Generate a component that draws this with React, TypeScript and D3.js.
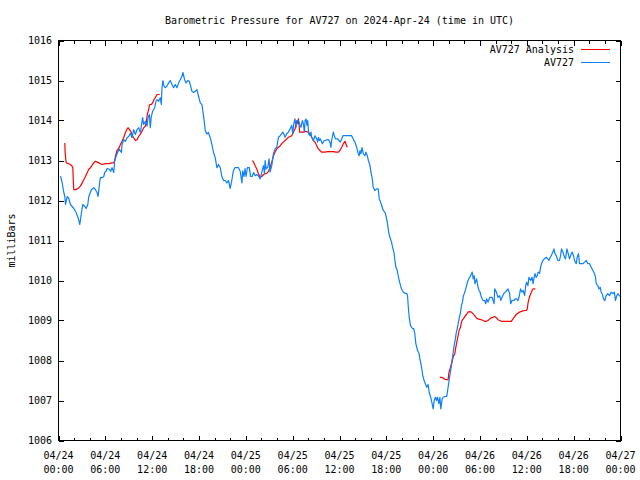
import React from 'react';
import * as d3 from 'd3';

// hours after 2024-04-24 00:00 UTC, pressure in mbar
const av727: [number, number][] = [
    [0.26, 1012.61], [0.47, 1012.44], [0.68, 1012.2], [0.81, 1012.1], [0.9, 1011.9], [1.11, 1012.1], [1.32, 1012.05],
    [1.53, 1011.9], [1.75, 1011.85], [1.96, 1011.8], [2.26, 1011.7], [2.51, 1011.57], [2.73, 1011.4], [2.94, 1011.7],
    [3.11, 1011.9], [3.37, 1011.85], [3.54, 1011.8], [3.75, 1011.9], [3.88, 1012.1], [4.22, 1012.27], [4.52, 1012.32],
    [4.73, 1012.27], [4.94, 1012.2], [5.07, 1012.1], [5.24, 1012.4], [5.37, 1012.57], [5.58, 1012.57], [5.8, 1012.6],
    [5.92, 1012.7], [6.1, 1012.73], [6.22, 1012.8], [6.52, 1012.78], [6.69, 1012.73], [6.86, 1012.82], [7.08, 1012.7],
    [7.2, 1013.0], [7.37, 1013.1], [7.63, 1013.23], [7.8, 1013.28], [8.06, 1013.2], [8.14, 1013.4], [8.35, 1013.52],
    [8.57, 1013.48], [8.78, 1013.57], [8.99, 1013.6], [9.21, 1013.68], [9.42, 1013.57], [9.63, 1013.77], [9.85, 1013.65],
    [10.06, 1013.77], [10.27, 1013.82], [10.49, 1013.7], [10.61, 1013.86], [10.78, 1014.07], [10.91, 1013.9],
    [11.13, 1013.98], [11.34, 1013.86], [11.47, 1014.07], [11.64, 1014.15], [11.76, 1013.82], [11.89, 1014.1],
    [12.06, 1014.23], [12.32, 1014.32], [12.49, 1014.48], [12.62, 1014.52], [12.83, 1014.48], [13.04, 1014.57],
    [13.17, 1014.4], [13.26, 1014.82], [13.38, 1015.0], [13.51, 1014.86], [13.68, 1014.82], [13.9, 1014.86],
    [14.11, 1014.94], [14.32, 1015.0], [14.54, 1014.9], [14.75, 1014.82], [14.96, 1014.9], [15.17, 1014.82],
    [15.39, 1014.94], [15.6, 1015.02], [15.81, 1015.1], [15.94, 1015.2], [16.16, 1015.02], [16.33, 1014.94],
    [16.58, 1015.0], [16.75, 1014.98], [16.88, 1014.9], [17.09, 1014.73], [17.31, 1014.7], [17.52, 1014.73],
    [17.73, 1014.77], [17.95, 1014.6], [18.16, 1014.44], [18.37, 1014.4], [18.5, 1014.23], [18.67, 1013.98],
    [18.8, 1013.75], [19.0, 1013.66], [19.2, 1013.7], [19.44, 1013.57], [19.65, 1013.4], [19.86, 1013.2],
    [20.08, 1013.07], [20.29, 1012.82], [20.5, 1012.9], [20.72, 1012.82], [20.93, 1012.6], [21.14, 1012.5],
    [21.35, 1012.5], [21.57, 1012.44], [21.78, 1012.5], [22.0, 1012.3], [22.2, 1012.5], [22.4, 1012.74],
    [22.6, 1012.82], [22.83, 1012.82], [23.06, 1012.82], [23.27, 1012.74], [23.5, 1012.44], [23.6, 1012.74],
    [23.77, 1012.6], [23.9, 1012.8], [24.03, 1012.6], [24.2, 1012.82], [24.45, 1012.82], [24.6, 1012.6],
    [24.8, 1012.6], [25.0, 1012.7], [25.2, 1012.62], [25.4, 1012.65], [25.6, 1012.62], [25.83, 1012.54],
    [26.05, 1012.71], [26.26, 1012.87], [26.39, 1012.67], [26.47, 1013.0], [26.6, 1012.79], [26.81, 1012.83],
    [26.98, 1013.04], [27.1, 1012.71], [27.32, 1012.87], [27.54, 1013.17], [27.75, 1013.29], [27.96, 1013.33],
    [28.18, 1013.58], [28.4, 1013.62], [28.6, 1013.67], [28.73, 1013.71], [28.86, 1013.67], [29.03, 1013.58],
    [29.24, 1013.67], [29.45, 1013.71], [29.67, 1013.79], [29.88, 1013.88], [30.01, 1013.67], [30.14, 1013.92],
    [30.3, 1014.04], [30.43, 1013.83], [30.56, 1014.0], [30.73, 1014.0], [30.94, 1013.88], [31.07, 1013.83],
    [31.24, 1014.0], [31.37, 1013.92], [31.5, 1013.71], [31.59, 1014.0], [31.71, 1014.04], [31.84, 1013.88],
    [31.93, 1014.0], [32.05, 1013.67], [32.22, 1013.62], [32.35, 1013.71], [32.44, 1013.58], [32.65, 1013.5],
    [32.86, 1013.62], [33.08, 1013.54], [33.2, 1013.46], [33.3, 1013.58], [33.43, 1013.5], [33.56, 1013.54],
    [33.8, 1013.42], [34.05, 1013.5], [34.22, 1013.5], [34.4, 1013.52], [34.57, 1013.52], [34.78, 1013.46],
    [34.9, 1013.33], [34.99, 1013.5], [35.21, 1013.71], [35.33, 1013.62], [35.5, 1013.54], [35.76, 1013.54],
    [35.93, 1013.5], [36.1, 1013.46], [36.28, 1013.54], [36.45, 1013.62], [36.7, 1013.62], [37.55, 1013.62],
    [37.76, 1013.54], [37.98, 1013.46], [38.2, 1013.33], [38.4, 1013.17], [38.53, 1013.12], [38.62, 1013.25],
    [38.75, 1013.17], [38.88, 1013.32], [39.05, 1013.17], [39.26, 1013.12], [39.39, 1013.21], [39.56, 1013.12],
    [39.7, 1013.0], [39.9, 1012.88], [40.03, 1012.71], [40.2, 1012.54], [40.32, 1012.33], [40.54, 1012.25],
    [40.75, 1012.29], [40.96, 1012.29], [41.09, 1012.04], [41.26, 1011.96], [41.47, 1011.83], [41.6, 1011.75],
    [41.82, 1011.71], [42.0, 1011.58], [42.15, 1011.42], [42.3, 1011.21], [42.45, 1011.08], [42.67, 1010.96],
    [42.8, 1010.83], [42.97, 1010.71], [43.1, 1010.5], [43.23, 1010.33], [43.4, 1010.25], [43.52, 1010.12],
    [43.65, 1010.0], [43.82, 1009.87], [43.95, 1009.79], [44.16, 1009.71], [44.37, 1009.68], [44.6, 1009.68],
    [44.72, 1009.62], [44.8, 1009.37], [44.93, 1009.08], [45.1, 1008.87], [45.35, 1008.8], [45.5, 1008.8],
    [45.65, 1008.67], [45.78, 1008.42], [46.0, 1008.25], [46.2, 1008.17], [46.3, 1008.04], [46.48, 1007.87],
    [46.67, 1007.62], [46.84, 1007.5], [47.0, 1007.42], [47.18, 1007.33], [47.35, 1007.4], [47.5, 1007.2],
    [47.69, 1007.08], [47.87, 1006.92], [48.0, 1006.79], [48.13, 1007.0], [48.3, 1007.08], [48.43, 1007.0],
    [48.56, 1007.08], [48.73, 1006.92], [48.86, 1007.08], [48.98, 1006.79], [49.15, 1007.04], [49.28, 1007.08],
    [49.5, 1007.1], [49.74, 1007.1], [49.91, 1007.33], [50.04, 1007.5], [50.17, 1007.67], [50.34, 1007.87],
    [50.47, 1008.08], [50.6, 1008.25], [50.73, 1008.42], [50.85, 1008.54], [50.94, 1008.67], [51.07, 1008.79],
    [51.2, 1008.92], [51.32, 1009.04], [51.5, 1009.2], [51.62, 1009.37], [51.75, 1009.46], [51.88, 1009.62],
    [52.05, 1009.71], [52.22, 1009.83], [52.39, 1009.96], [52.56, 1010.04], [52.69, 1010.08], [52.9, 1010.17],
    [53.0, 1010.21], [53.13, 1010.04], [53.26, 1010.12], [53.35, 1009.92], [53.56, 1010.04], [53.75, 1009.83],
    [53.88, 1009.75], [54.01, 1009.71], [54.18, 1009.58], [54.4, 1009.5], [54.6, 1009.5], [54.73, 1009.42],
    [54.86, 1009.54], [55.03, 1009.46], [55.25, 1009.58], [55.55, 1009.58], [55.8, 1009.42], [55.88, 1009.79],
    [56.1, 1009.71], [56.3, 1009.58], [56.52, 1009.62], [56.65, 1009.5], [56.82, 1009.58], [57.03, 1009.67],
    [57.25, 1009.71], [57.42, 1009.75], [57.59, 1009.79], [57.8, 1009.67], [57.93, 1009.42], [58.1, 1009.5],
    [58.35, 1009.5], [58.52, 1009.54], [58.69, 1009.54], [58.86, 1009.5], [58.99, 1009.58], [59.2, 1009.79],
    [59.37, 1009.71], [59.54, 1009.75], [59.72, 1009.62], [59.85, 1009.87], [59.97, 1009.96], [60.14, 1009.87],
    [60.27, 1010.08], [60.5, 1010.0], [60.67, 1010.08], [60.8, 1009.92], [60.9, 1010.04], [61.04, 1010.17],
    [61.2, 1010.08], [61.33, 1010.12], [61.46, 1010.21], [61.63, 1010.18], [61.76, 1010.33], [61.88, 1010.42],
    [62.05, 1010.5], [62.26, 1010.54], [62.48, 1010.58], [62.69, 1010.54], [62.82, 1010.5], [62.99, 1010.58],
    [63.12, 1010.62], [63.34, 1010.71], [63.47, 1010.79], [63.6, 1010.67], [63.77, 1010.62], [63.98, 1010.5],
    [64.19, 1010.5], [64.32, 1010.62], [64.45, 1010.79], [64.62, 1010.71], [64.83, 1010.58], [64.96, 1010.54],
    [65.13, 1010.79], [65.3, 1010.67], [65.47, 1010.54], [65.69, 1010.67], [65.81, 1010.71], [65.98, 1010.62],
    [66.11, 1010.5], [66.33, 1010.42], [66.45, 1010.58], [66.62, 1010.67], [66.75, 1010.42], [66.97, 1010.42],
    [67.18, 1010.42], [67.4, 1010.46], [67.61, 1010.5], [67.82, 1010.42], [68.04, 1010.42], [68.25, 1010.33],
    [68.46, 1010.25], [68.67, 1010.17], [68.8, 1010.08], [68.89, 1009.92], [69.1, 1009.87], [69.23, 1009.79],
    [69.4, 1009.83], [69.52, 1009.71], [69.65, 1009.67], [69.82, 1009.54], [69.99, 1009.5], [70.16, 1009.62],
    [70.37, 1009.67], [70.59, 1009.62], [70.8, 1009.71], [71.01, 1009.67], [71.22, 1009.71], [71.35, 1009.5],
    [71.52, 1009.62], [71.69, 1009.67], [71.9, 1009.6],
];

// analysis runs (gaps between them)
const analysisRun1: [number, number][] = [
    [0.81, 1013.44], [0.85, 1013.19], [0.98, 1012.94], [1.32, 1012.92], [1.66, 1012.88], [1.83, 1012.83],
    [1.88, 1012.57], [1.96, 1012.27], [2.17, 1012.27], [2.39, 1012.29], [2.6, 1012.32], [2.81, 1012.36],
    [3.03, 1012.44], [3.24, 1012.52], [3.45, 1012.6], [3.66, 1012.69], [3.88, 1012.78], [4.09, 1012.82],
    [4.3, 1012.88], [4.52, 1012.94], [4.73, 1012.98], [4.94, 1012.96], [5.16, 1012.94], [5.37, 1012.92],
    [5.58, 1012.9], [6.01, 1012.92], [6.44, 1012.92], [6.86, 1012.94], [7.08, 1012.94], [7.2, 1013.0],
    [7.29, 1013.1], [7.5, 1013.25], [7.72, 1013.3], [7.93, 1013.4], [8.14, 1013.48], [8.35, 1013.57],
    [8.57, 1013.7], [8.78, 1013.78], [8.9, 1013.82], [9.08, 1013.78], [9.25, 1013.73], [9.42, 1013.65],
    [9.63, 1013.57], [9.85, 1013.5], [10.06, 1013.52], [10.27, 1013.6], [10.49, 1013.66], [10.7, 1013.73],
    [10.91, 1013.82], [11.13, 1013.86], [11.25, 1013.98], [11.38, 1014.15], [11.55, 1014.28], [11.68, 1014.4],
    [11.89, 1014.4], [12.06, 1014.44], [12.23, 1014.52], [12.4, 1014.57], [12.62, 1014.65], [12.96, 1014.65],
];
const analysisRun2: [number, number][] = [
    [24.85, 1013.0], [24.98, 1012.96], [25.19, 1012.87], [25.4, 1012.79], [25.62, 1012.67], [25.83, 1012.58],
    [26.05, 1012.6], [26.26, 1012.65], [26.47, 1012.67], [26.68, 1012.68], [26.9, 1012.73], [27.11, 1012.83],
    [27.32, 1012.96], [27.54, 1013.12], [27.75, 1013.21], [27.96, 1013.29], [28.18, 1013.33], [28.4, 1013.37],
    [28.6, 1013.42], [28.8, 1013.46], [29.03, 1013.5], [29.24, 1013.54], [29.45, 1013.58], [29.67, 1013.6],
    [29.88, 1013.62], [30.1, 1013.71], [30.31, 1013.79], [30.43, 1013.92], [30.56, 1014.0], [30.65, 1013.92],
    [30.73, 1014.04], [30.82, 1013.88], [30.9, 1013.71], [31.16, 1013.71], [31.37, 1013.71], [31.59, 1013.73],
    [31.8, 1013.72], [32.0, 1013.71], [32.22, 1013.67], [32.44, 1013.58], [32.65, 1013.5], [32.86, 1013.46],
    [33.08, 1013.37], [33.29, 1013.29], [33.5, 1013.25], [33.7, 1013.21], [34.1, 1013.21], [34.5, 1013.22],
    [34.9, 1013.22], [35.21, 1013.22], [35.5, 1013.21], [35.85, 1013.21], [36.06, 1013.25], [36.28, 1013.33],
    [36.5, 1013.42], [36.7, 1013.48], [36.85, 1013.4], [37.0, 1013.33],
];
const analysisRun3: [number, number][] = [
    [48.85, 1007.58], [49.07, 1007.58], [49.28, 1007.56], [49.5, 1007.53], [49.7, 1007.52], [49.91, 1007.52],
    [50.0, 1007.67], [50.08, 1007.75], [50.17, 1007.79], [50.34, 1007.92], [50.47, 1008.0], [50.6, 1008.13],
    [50.68, 1008.13], [50.77, 1008.17], [50.9, 1008.33], [51.07, 1008.5], [51.2, 1008.63], [51.32, 1008.75],
    [51.5, 1008.83], [51.62, 1008.96], [51.75, 1009.02], [51.88, 1009.04], [52.05, 1009.1], [52.26, 1009.15],
    [52.47, 1009.21], [52.68, 1009.22], [52.9, 1009.21], [53.1, 1009.17], [53.32, 1009.12], [53.5, 1009.07],
    [53.75, 1009.04], [53.96, 1009.03], [54.18, 1009.02], [54.4, 1009.0], [54.6, 1008.98], [54.82, 1008.98],
    [55.03, 1009.0], [55.25, 1009.04], [55.46, 1009.07], [55.67, 1009.08], [55.88, 1009.1], [56.1, 1009.07],
    [56.3, 1009.02], [56.52, 1009.0], [56.74, 1008.98], [57.16, 1008.98], [57.59, 1008.98], [58.01, 1008.98],
    [58.23, 1009.04], [58.44, 1009.1], [58.65, 1009.15], [58.86, 1009.18], [59.08, 1009.21], [59.3, 1009.23],
    [59.5, 1009.24], [59.72, 1009.25], [59.93, 1009.25], [60.06, 1009.29], [60.14, 1009.42], [60.27, 1009.54],
    [60.4, 1009.62], [60.6, 1009.71], [60.7, 1009.77], [60.8, 1009.79], [61.1, 1009.79],
];

const yTicks = [1006, 1007, 1008, 1009, 1010, 1011, 1012, 1013, 1014, 1015, 1016];
const legendLabels = ['AV727 Analysis', 'AV727'];

const WIDTH = 640, HEIGHT = 480;
const MARGIN = { LEFT: 58.5, RIGHT: 19.5, TOP: 40.5, BOTTOM: 39.5 };
const RED = '#ff0000', BLUE = '#0a80ff';
const FONT = '"DejaVu Sans Mono", "Liberation Mono", monospace';

const T0 = Date.UTC(2024, 3, 24);
const toDate = (h: number) => new Date(T0 + h * 3600 * 1000);

export default function App() {
    const x = d3.scaleUtc().domain([toDate(0), toDate(72)]).range([MARGIN.LEFT, WIDTH - MARGIN.RIGHT]);
    const y = d3.scaleLinear().domain([1006, 1016]).range([HEIGHT - MARGIN.BOTTOM, MARGIN.TOP]);

    const line = d3.line<[number, number]>()
        .x(d => x(toDate(d[0])))
        .y(d => y(d[1]));

    const majorTicks = x.ticks(d3.utcHour.every(6)!);
    const minorTicks = x.ticks(d3.utcHour.every(2)!).filter(t => t.getUTCHours() % 6 !== 0);
    const fmtDay = d3.utcFormat('%m/%d'), fmtTime = d3.utcFormat('%H:%M');

    const top = MARGIN.TOP, bottom = HEIGHT - MARGIN.BOTTOM;
    const left = MARGIN.LEFT, right = WIDTH - MARGIN.RIGHT;

    return (
        <div style={{ position: 'absolute', left: 0, top: 0 }}>
            <svg width={WIDTH} height={HEIGHT} style={{ display: 'block', background: '#fff' }} fontFamily={FONT} fontSize={10}>
                <text x={(left + right) / 2} y={24} textAnchor='middle'>
                    Barometric Pressure for AV727 on 2024-Apr-24 (time in UTC)
                </text>

                <g stroke='#000' strokeWidth={1} shapeRendering='crispEdges'>
                    {yTicks.map(t => (
                        <g key={`yt-${t}`}>
                            <line x1={left} x2={left + 5} y1={Math.round(y(t)) + 0.5} y2={Math.round(y(t)) + 0.5} />
                            <line x1={right} x2={right - 5} y1={Math.round(y(t)) + 0.5} y2={Math.round(y(t)) + 0.5} />
                        </g>
                    ))}
                    {majorTicks.map((t, i) => (
                        <g key={`xt-${i}`}>
                            <line x1={Math.round(x(t)) + 0.5} x2={Math.round(x(t)) + 0.5} y1={bottom} y2={bottom - 5} />
                            <line x1={Math.round(x(t)) + 0.5} x2={Math.round(x(t)) + 0.5} y1={top} y2={top + 5} />
                        </g>
                    ))}
                    {minorTicks.map((t, i) => (
                        <g key={`xm-${i}`}>
                            <line x1={Math.round(x(t)) + 0.5} x2={Math.round(x(t)) + 0.5} y1={bottom} y2={bottom - 3} />
                            <line x1={Math.round(x(t)) + 0.5} x2={Math.round(x(t)) + 0.5} y1={top} y2={top + 3} />
                        </g>
                    ))}
                </g>

                <g fill='#000'>
                    {yTicks.map(t => (
                        <text key={`yl-${t}`} x={52} y={y(t)} dy='0.35em' textAnchor='end'>{t}</text>
                    ))}
                    {majorTicks.map((t, i) => (
                        <text key={`xl-${i}`} x={x(t)} y={459} textAnchor='middle'>
                            <tspan x={x(t)}>{fmtDay(t)}</tspan>
                            <tspan x={x(t)} dy={14}>{fmtTime(t)}</tspan>
                        </text>
                    ))}
                    <text transform={`translate(15,${(top + bottom) / 2}) rotate(-90)`} textAnchor='middle'>milliBars</text>
                </g>

                <g fill='none' strokeWidth={1.2} strokeLinejoin='round'>
                    {[analysisRun1, analysisRun2, analysisRun3].map((run, i) => (
                        <path key={`run-${i}`} d={line(run) || ''} stroke={RED} />
                    ))}
                    <path d={line(av727) || ''} stroke={BLUE} />
                </g>

                <g>
                    {legendLabels.map((label, i) => (
                        <g key={label}>
                            <text x={574} y={49 + i * 13} dy='0.35em' textAnchor='end'>{label}</text>
                            <line x1={581} x2={610} y1={49.5 + i * 13} y2={49.5 + i * 13} stroke={i === 0 ? RED : BLUE} strokeWidth={1} shapeRendering='crispEdges' />
                        </g>
                    ))}
                </g>

                <rect x={left} y={top} width={right - left} height={bottom - top} fill='none' stroke='#000' strokeWidth={1} shapeRendering='crispEdges' />
            </svg>
        </div>
    );
}
